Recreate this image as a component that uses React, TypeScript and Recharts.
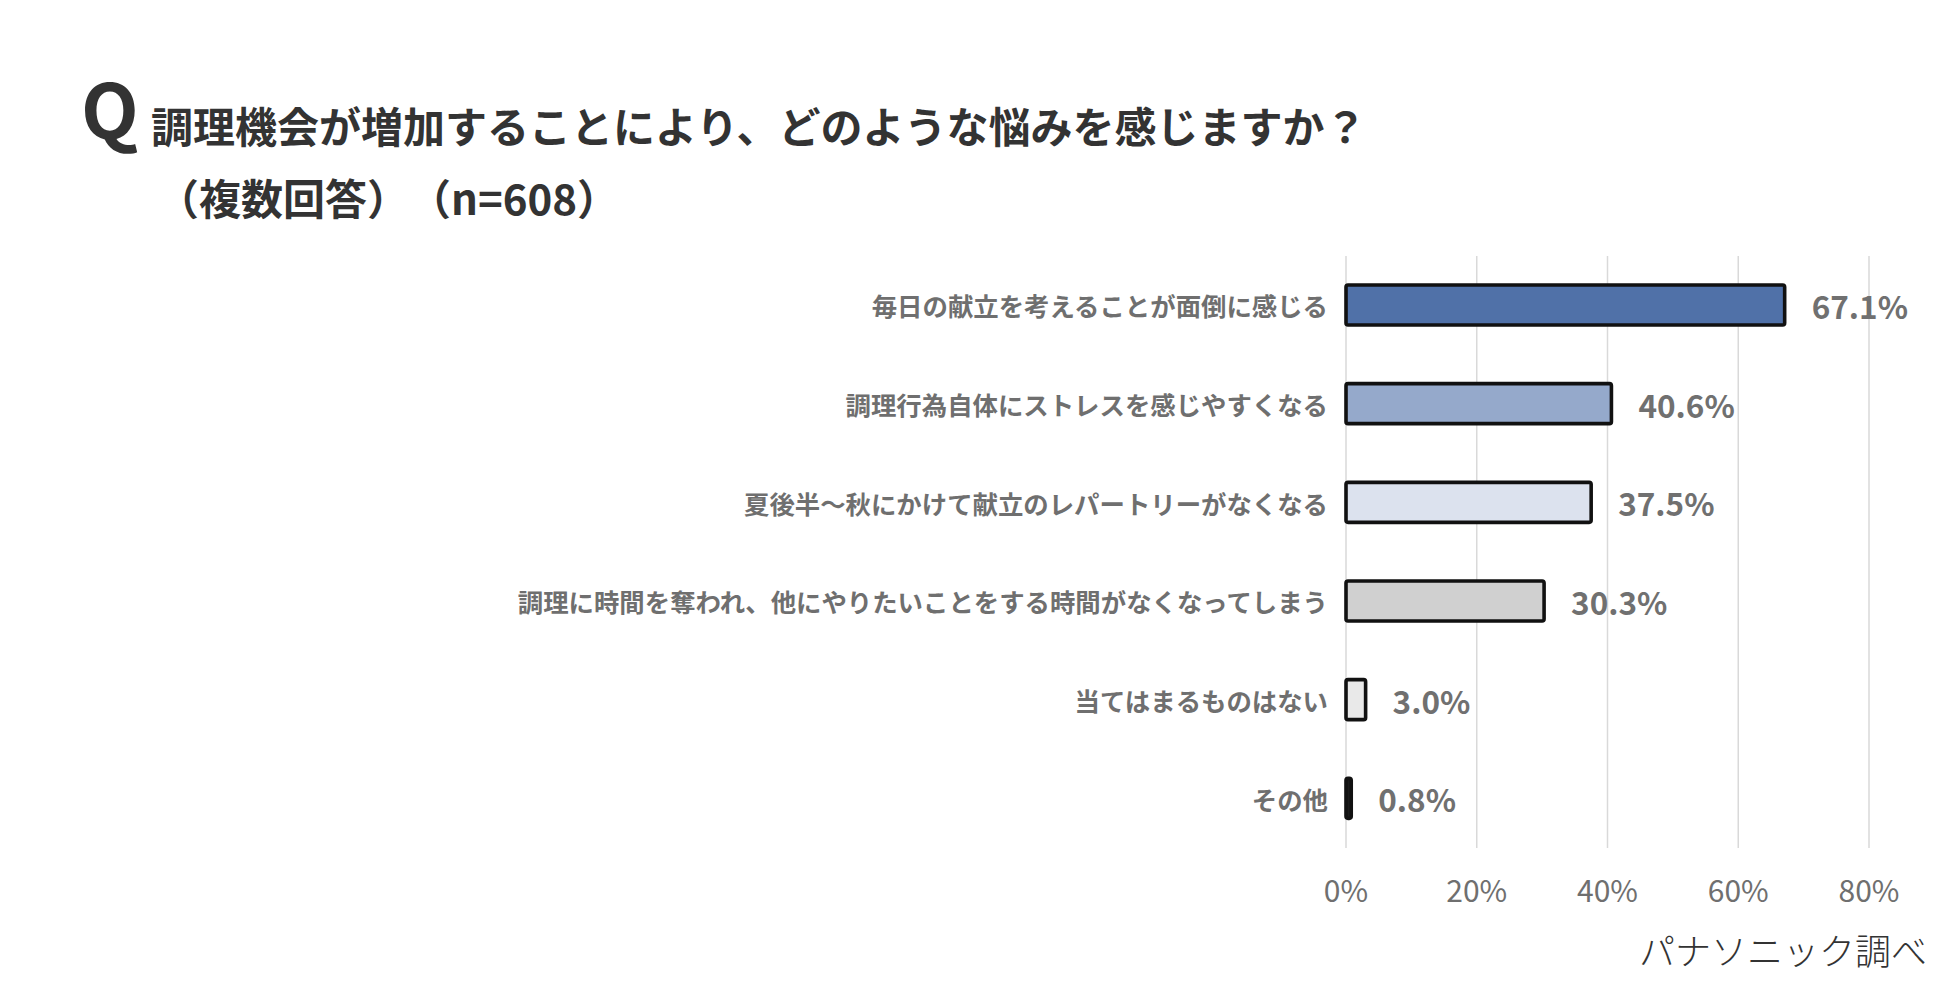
import { Bar, BarChart, CartesianGrid, Cell, LabelList, XAxis, YAxis } from 'recharts'

// 回答項目と割合（%）
const categories = [
  '毎日の献立を考えることが面倒に感じる',
  '調理行為自体にストレスを感じやすくなる',
  '夏後半～秋にかけて献立のレパートリーがなくなる',
  '調理に時間を奪われ、他にやりたいことをする時間がなくなってしまう',
  '当てはまるものはない',
  'その他',
]
const values = [67.1, 40.6, 37.5, 30.3, 3.0, 0.8]
const xTicks = [0, 20, 40, 60, 80]

const titleLine1 = '調理機会が増加することにより、どのような悩みを感じますか？'
const titleLine2a = '（複数回答）'
const titleLine2b = '（n=608）'
const sourceText = 'パナソニック調べ'

const barFills = ['#5071A8', '#95A9CB', '#DCE2EE', '#D0D0D0', '#E9E9E9', '#1A1A1A']

const jpFont = '"Noto Sans CJK JP", "Noto Sans", sans-serif'
const grayText = '#6F6F6F'

const chartData = categories.map((name, i) => ({ name, value: values[i] }))

function CategoryTick({ x, y, payload }: any) {
  return (
    <text
      x={x - 18}
      y={y}
      textAnchor="end"
      dominantBaseline="central"
      fontFamily={jpFont}
      fontWeight={700}
      fontSize={25.4}
      fill={grayText}
    >
      {payload.value}
    </text>
  )
}

function PercentTick({ x, y, payload }: any) {
  return (
    <text
      x={x}
      y={y + 41}
      textAnchor="middle"
      dominantBaseline="central"
      fontFamily={jpFont}
      fontSize={30}
      fill={grayText}
    >
      {`${payload.value}%`}
    </text>
  )
}

function ValueLabel({ x, y, width, height, value }: any) {
  return (
    <text
      x={x + width + 27}
      y={y + height / 2}
      textAnchor="start"
      dominantBaseline="central"
      fontFamily={jpFont}
      fontWeight={700}
      fontSize={31.5}
      fill="#707070"
    >
      {`${Number(value).toFixed(1)}%`}
    </text>
  )
}

export default function App() {
  return (
    <div style={{ position: 'relative', width: 1950, height: 989, background: '#fff' }}>
      <style>{'body{margin:0}'}</style>

      <BarChart
        layout="vertical"
        width={1950}
        height={989}
        data={chartData}
        margin={{ top: 256, right: 81, bottom: 81, left: 0 }}
      >
        <CartesianGrid horizontal={false} stroke="#D9D9D9" strokeWidth={1.5} />
        <XAxis
          type="number"
          domain={[0, 80]}
          ticks={xTicks}
          height={60}
          axisLine={false}
          tickLine={false}
          tickSize={0}
          tickMargin={0}
          tick={<PercentTick />}
        />
        <YAxis
          type="category"
          dataKey="name"
          width={1346}
          axisLine={false}
          tickLine={false}
          tickSize={0}
          tickMargin={0}
          tick={<CategoryTick />}
        />
        <Bar
          dataKey="value"
          barSize={40}
          stroke="#111111"
          strokeWidth={3.6}
          radius={2}
          isAnimationActive={false}
        >
          {chartData.map((entry, index) => (
            <Cell key={`bar-${entry.name}`} fill={barFills[index]} />
          ))}
          <LabelList dataKey="value" content={<ValueLabel />} />
        </Bar>
      </BarChart>

      {/* 設問タイトルと出典 */}
      <svg
        width={1950}
        height={989}
        style={{ position: 'absolute', left: 0, top: 0, pointerEvents: 'none' }}
      >
        <text x={81} y={139} fontFamily={jpFont} fontWeight={700} fontSize={75} fill="#333333">
          Q
        </text>
        <text x={151} y={143} fontFamily={jpFont} fontWeight={700} fontSize={42} fill="#333333">
          {titleLine1}
        </text>
        <text x={157} y={215} fontFamily={jpFont} fontWeight={700} fontSize={42} fill="#333333">
          {titleLine2a}
        </text>
        <text x={409} y={215} fontFamily={jpFont} fontWeight={700} fontSize={42} fill="#333333">
          {titleLine2b}
        </text>
        <text
          x={1927}
          y={949}
          textAnchor="end"
          dominantBaseline="central"
          fontFamily={jpFont}
          fontWeight={300}
          fontSize={36}
          fill="#333333"
        >
          {sourceText}
        </text>
      </svg>
    </div>
  )
}
